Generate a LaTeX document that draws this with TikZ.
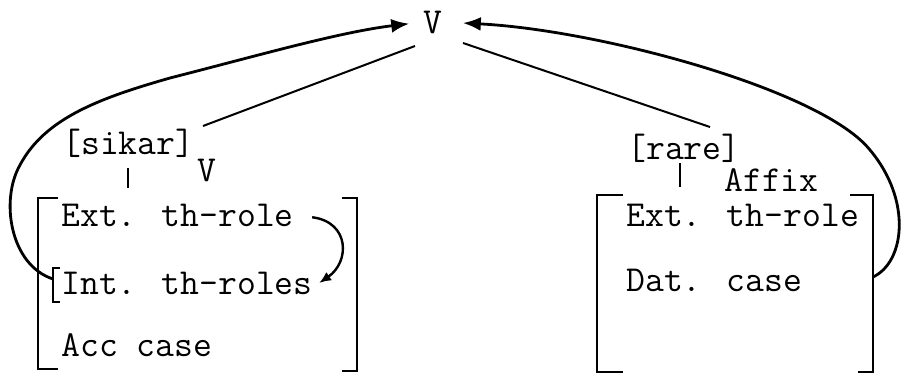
\documentclass[tikz,border=0pt]{standalone}
\usepackage{fontspec}
\usetikzlibrary{arrows.meta, positioning}

\begin{document}
\begin{tikzpicture}[x=0.5pt, y=-0.5pt,
    lbl/.style={font=\ttfamily\fontsize{18.3}{21}\selectfont, inner sep=0pt},
    brk/.style={line width=1.2pt},
    link/.style={line width=1pt},
    hook/.style={line width=1.4pt, -{Latex[length=9pt,width=7pt]}}]
    \useasboundingbox (0,0) rectangle (904,375);

    % verb on top
    \node[lbl] (topv) at (433,22) {V};

    % left entry
    \node[lbl, anchor=west] (sikar) at (62,143) {[sikar]};
    \node[lbl] (sikarv) at (207,170) {V};
    \draw[link] (128,168) -- (128,188);
    \draw[brk] (58,198) -- (38,198) -- (38,369) -- (58,369);
    \draw[brk] (342,198) -- (357,198) -- (357,371) -- (342,371);
    \node[lbl, anchor=west] (extl) at (61,215) {Ext. th-role};
    \node[lbl, anchor=west] (intl) at (61,283) {Int. th-roles};
    \node[lbl, anchor=west] (accl) at (61,345) {Acc case};
    \draw[brk] (60,268) -- (53,268) -- (53,302) -- (60,302);
    \coordinate (intb) at (53,279);

    % right entry
    \node[lbl, anchor=west] (rare) at (627,148) {[rare]};
    \node[lbl, anchor=west] (affix) at (724,180) {Affix};
    \draw[link] (680,163) -- (680,187);
    \draw[brk] (623,195) -- (597,195) -- (597,372) -- (623,372);
    \draw[brk] (850,195) -- (873,195) -- (873,372) -- (858,372);
    \node[lbl, anchor=west] (extr) at (626,215) {Ext. th-role};
    \node[lbl, anchor=west] (datr) at (626,280) {Dat. case};
    \coordinate (rbr) at (873,277);

    % lines up to V
    \coordinate (sikartop) at (203,126);
    \coordinate (raretop) at (710,127);
    \draw[link] (sikartop) -- (415,46);
    \draw[link] (raretop) -- (463,43);

    % arrows
    \draw[hook, shorten >=7pt] (intb) .. controls (10,265) and (0,200) .. (20,165)
        .. controls (45,118) and (100,98) .. (170,78)
        .. controls (260,55) and (340,32) .. (topv.west);
    \draw[hook, shorten >=10pt] (rbr) .. controls (905,262) and (912,200) .. (870,150)
        .. controls (822,90) and (600,30) .. (topv.east);
    \draw[hook, line width=1.2pt, -{Latex[length=6pt,width=5pt]}, shorten <=9pt]
        (extl.east) .. controls (350,222) and (350,262) .. ([xshift=3pt]intl.east);
\end{tikzpicture}
\end{document}
